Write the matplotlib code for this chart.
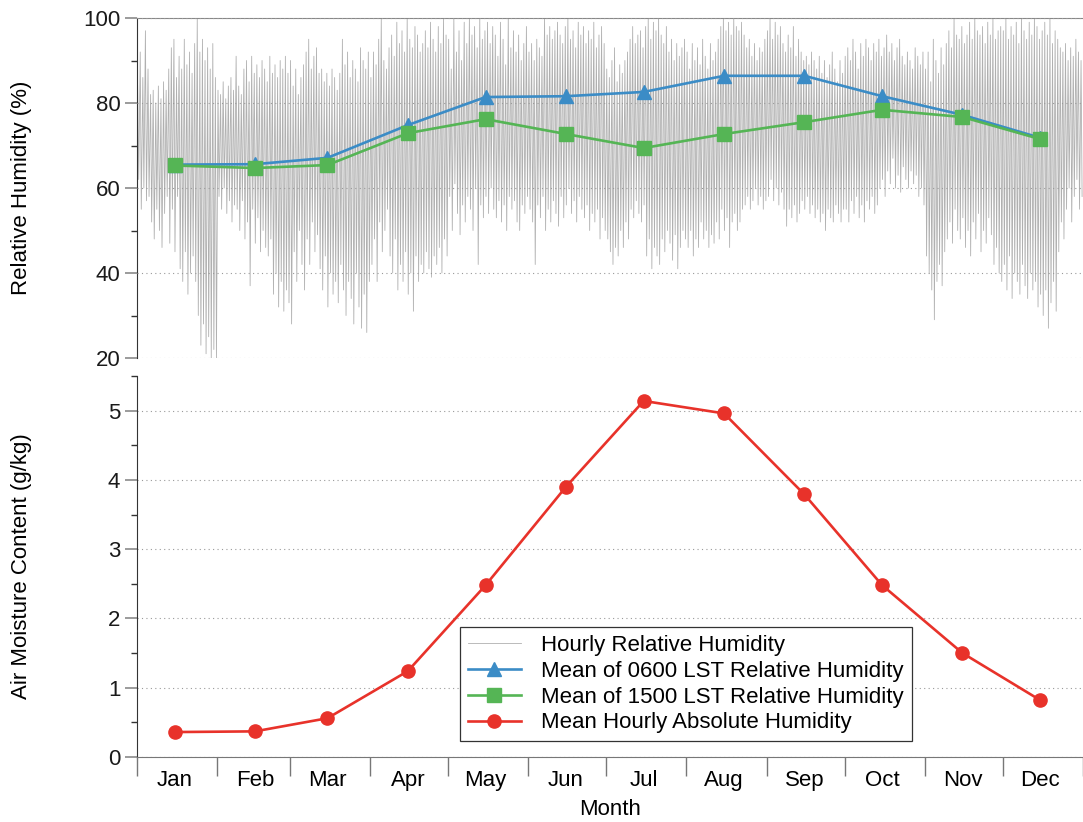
import numpy as np
import matplotlib.pyplot as plt
from matplotlib.ticker import MultipleLocator, FixedLocator, NullFormatter

plt.rcParams['font.family'] = ['Liberation Sans', 'DejaVu Sans']
plt.rcParams['font.size'] = 16

months = ['Jan', 'Feb', 'Mar', 'Apr', 'May', 'Jun',
          'Jul', 'Aug', 'Sep', 'Oct', 'Nov', 'Dec']
month_days = [31, 28, 31, 30, 31, 30, 31, 31, 30, 31, 30, 31]

# monthly means
rh_0600 = [65.5, 65.6, 67.1, 74.8, 81.4, 81.6, 82.6, 86.4, 86.4, 81.6, 77.2, 71.8]
rh_1500 = [65.3, 64.7, 65.4, 72.9, 76.2, 72.7, 69.4, 72.7, 75.5, 78.4, 76.7, 71.5]
abs_humidity = [0.36, 0.37, 0.56, 1.24, 2.48, 3.90, 5.14, 4.96, 3.79, 2.48, 1.50, 0.82]

# daily max / min of the hourly record (one row per month)
rh_daily_high = [
    84, 92, 86, 97, 88, 82, 83, 80, 84, 81, 85, 83, 88, 93, 95, 86, 91, 88, 95, 89, 92, 87, 94, 100, 92, 95, 90, 93, 88, 94, 86,
    83, 82, 85, 81, 84, 86, 83, 91, 84, 82, 88, 90, 85, 91, 87, 89, 86, 90, 88, 85, 91, 87, 89, 86, 90, 88, 91, 87,
    90, 84, 88, 82, 86, 89, 92, 95, 88, 91, 93, 87, 88, 85, 87, 84, 88, 86, 83, 87, 95, 89, 92, 86, 90, 88, 85, 93, 90, 88, 92,
    86, 92, 89, 95, 100, 90, 88, 93, 96, 91, 99, 94, 97, 92, 100, 95, 93, 98, 96, 92, 94, 97, 93, 99, 95, 92, 98, 94, 100, 96,
    95, 88, 100, 92, 97, 90, 99, 94, 100, 96, 98, 93, 100, 95, 97, 99, 94, 98, 96, 91, 99, 95, 89, 100, 93, 97, 92, 96, 90, 94, 98,
    92, 94, 90, 95, 93, 91, 100, 96, 98, 95, 97, 99, 96, 94, 98, 100, 95, 97, 93, 99, 96, 98, 94, 97, 95, 99, 93, 96, 98, 94,
    88, 86, 90, 93, 85, 89, 87, 90, 92, 95, 98, 94, 96, 97, 93, 98, 100, 95, 99, 97, 100, 96, 94, 98, 92, 95, 90, 94, 91, 93, 95,
    92, 88, 94, 90, 93, 89, 95, 91, 88, 94, 90, 92, 95, 98, 100, 97, 99, 96, 100, 98, 97, 99, 96, 93, 95, 91, 94, 90, 93, 92, 95,
    97, 100, 95, 99, 96, 98, 94, 92, 96, 93, 98, 91, 95, 92, 90, 91, 89, 92, 90, 88, 91, 87, 90, 86, 89, 92, 88, 85, 90, 87,
    91, 93, 90, 95, 92, 88, 94, 91, 95, 93, 90, 94, 92, 95, 91, 93, 96, 92, 94, 90, 93, 95, 91, 89, 92, 90, 88, 93, 91, 89, 92,
    88, 92, 85, 95, 90, 87, 93, 89, 94, 97, 93, 100, 96, 95, 98, 94, 96, 99, 95, 100, 97, 96, 98, 94, 99, 96, 100, 95, 97, 98,
    97, 100, 95, 98, 96, 99, 94, 100, 97, 95, 99, 96, 100, 98, 95, 97, 99, 96, 100, 94, 97, 95, 93, 92, 94, 90, 93, 91, 95, 92, 90,
]
rh_daily_low = [
    62, 55, 60, 57, 58, 52, 48, 55, 50, 46, 54, 58, 47, 55, 45, 58, 41, 38, 45, 35, 40, 44, 38, 30, 23, 28, 21, 25, 20, 22, 20,
    58, 55, 60, 54, 57, 52, 56, 55, 50, 57, 48, 52, 37, 55, 47, 53, 45, 50, 46, 44, 48, 35, 40, 32, 38, 31, 36, 33,
    28, 45, 38, 50, 42, 36, 48, 42, 52, 45, 49, 41, 36, 44, 32, 40, 35, 38, 33, 42, 36, 30, 38, 34, 28, 40, 32, 27, 35, 26, 38,
    42, 48, 38, 52, 45, 50, 55, 44, 40, 48, 36, 42, 38, 45, 35, 40, 31, 44, 38, 42, 40, 45, 41, 39, 44, 42, 46, 40, 48, 44,
    58, 50, 61, 54, 49, 56, 52, 58, 55, 50, 60, 42, 56, 53, 58, 54, 60, 55, 53, 57, 52, 56, 50, 58, 55, 57, 52, 50, 56, 54, 58,
    55, 52, 42, 56, 53, 58, 50, 55, 52, 57, 54, 51, 58, 53, 56, 60, 54, 57, 52, 58, 55, 53, 56, 50, 54, 52, 55, 48, 53, 50,
    48, 45, 42, 46, 44, 50, 46, 52, 48, 55, 53, 57, 54, 52, 56, 44, 48, 41, 46, 44, 42, 48, 45, 50, 47, 43, 49, 41, 46, 50, 48,
    46, 50, 44, 48, 46, 52, 48, 50, 46, 49, 47, 52, 48, 55, 50, 53, 46, 52, 54, 50, 52, 55, 56, 58, 55, 57, 60, 56, 58, 55, 57,
    58, 62, 57, 60, 56, 59, 55, 51, 55, 53, 56, 52, 54, 57, 55, 58, 54, 56, 53, 55, 52, 54, 50, 55, 53, 52, 56, 54, 52, 55,
    55, 52, 57, 54, 58, 53, 56, 52, 57, 55, 58, 54, 56, 60, 62, 58, 64, 61, 67, 60, 63, 59, 65, 62, 60, 64, 61, 63, 58, 60, 56,
    44, 40, 36, 29, 38, 42, 37, 45, 48, 52, 47, 55, 50, 48, 53, 46, 50, 44, 52, 48, 54, 45, 50, 47, 53, 49, 42, 46, 40, 38,
    42, 36, 44, 34, 40, 38, 35, 42, 37, 34, 40, 36, 38, 32, 35, 30, 36, 27, 33, 38, 31, 45, 52, 48, 55, 60, 52, 58, 62, 55, 58,
]

starts = np.concatenate([[0], np.cumsum(month_days)[:-1]])
ends = np.cumsum(month_days)
mid = starts + 14.5

# early-morning maximum, mid-afternoon minimum for each day
days = np.arange(len(rh_daily_high))
hour_x = np.column_stack([days + 0.25, days + 0.65]).ravel()
hour_y = np.column_stack([rh_daily_high, rh_daily_low]).ravel()

blue = '#3b8cc6'
green = '#55b555'
red = '#e8322a'
grid_kw = dict(color='#9a9a9a', linestyle=(0, (1, 3)), linewidth=0.8)

fig = plt.figure(figsize=(10.83, 8.22), dpi=100)
ax1 = fig.add_axes([137 / 1083, 464 / 822, 946 / 1083, 340 / 822])
ax2 = fig.add_axes([137 / 1083, 65 / 822, 946 / 1083, 381 / 822])

# --- relative humidity ---
h_hour, = ax1.plot(hour_x, hour_y, color='#b0b0b0', linewidth=0.6,
                   label='Hourly Relative Humidity', zorder=1)
h_06, = ax1.plot(mid, rh_0600, color=blue, linewidth=1.9, marker='^',
                 markersize=10.5, label='Mean of 0600 LST Relative Humidity', zorder=3)
h_15, = ax1.plot(mid, rh_1500, color=green, linewidth=1.9, marker='s',
                 markersize=9.5, label='Mean of 1500 LST Relative Humidity', zorder=4)

ax1.set_xlim(0, 365)
ax1.set_ylim(20, 100)
ax1.yaxis.set_major_locator(MultipleLocator(20))
ax1.yaxis.set_minor_locator(MultipleLocator(10))
ax1.set_xticks([])
ax1.grid(axis='y', which='major', zorder=2, **grid_kw)
ax1.set_axisbelow(False)
ax1.spines['right'].set_visible(False)
ax1.spines['bottom'].set_visible(False)
ax1.spines['top'].set_color('#888888')
ax1.spines['left'].set_color('#333333')
ax1.set_ylabel('Relative Humidity (%)')
ax1.yaxis.set_label_coords(-0.111, 0.5)

# --- absolute humidity ---
h_abs, = ax2.plot(mid, abs_humidity, color=red, linewidth=1.9, marker='o',
                  markersize=9.5, label='Mean Hourly Absolute Humidity', zorder=3)

ax2.set_xlim(0, 365)
ax2.set_ylim(0, 5.5)
ax2.yaxis.set_major_locator(MultipleLocator(1))
ax2.yaxis.set_minor_locator(MultipleLocator(0.5))
ax2.grid(axis='y', which='major', zorder=2, **grid_kw)
ax2.xaxis.set_major_locator(FixedLocator(np.concatenate([[0], ends])))
ax2.xaxis.set_major_formatter(NullFormatter())
ax2.xaxis.set_minor_locator(FixedLocator(mid))
ax2.set_xticklabels(months, minor=True)
ax2.tick_params(axis='x', which='major', length=14, width=1, color='#777777')
ax2.tick_params(axis='x', which='minor', length=0, pad=9)
ax2.spines['right'].set_visible(False)
ax2.spines['top'].set_visible(False)
ax2.spines['bottom'].set_color('#777777')
ax2.spines['left'].set_color('#333333')
ax2.set_ylabel('Air Moisture Content (g/kg)')
ax2.yaxis.set_label_coords(-0.111, 0.5)
ax2.set_xlabel('Month', labelpad=6)

for ax in (ax1, ax2):
    ax.tick_params(axis='y', which='major', length=9, width=1.2, color='#8a8a8a', pad=3)
    ax.tick_params(axis='y', which='minor', length=4, width=1, color='#333333')
    ax.tick_params(labelcolor='#1a1a1a')

leg = ax2.legend(handles=[h_hour, h_06, h_15, h_abs], loc='upper left',
                 bbox_to_anchor=(460 / 1083, 1 - 627 / 822),
                 bbox_transform=fig.transFigure, borderaxespad=0,
                 fancybox=False, framealpha=1, edgecolor='#333333',
                 handlelength=2.4, labelspacing=0.22, borderpad=0.35,
                 handletextpad=0.9)
leg.get_frame().set_linewidth(0.9)

fig.savefig('out.png', dpi=100)
